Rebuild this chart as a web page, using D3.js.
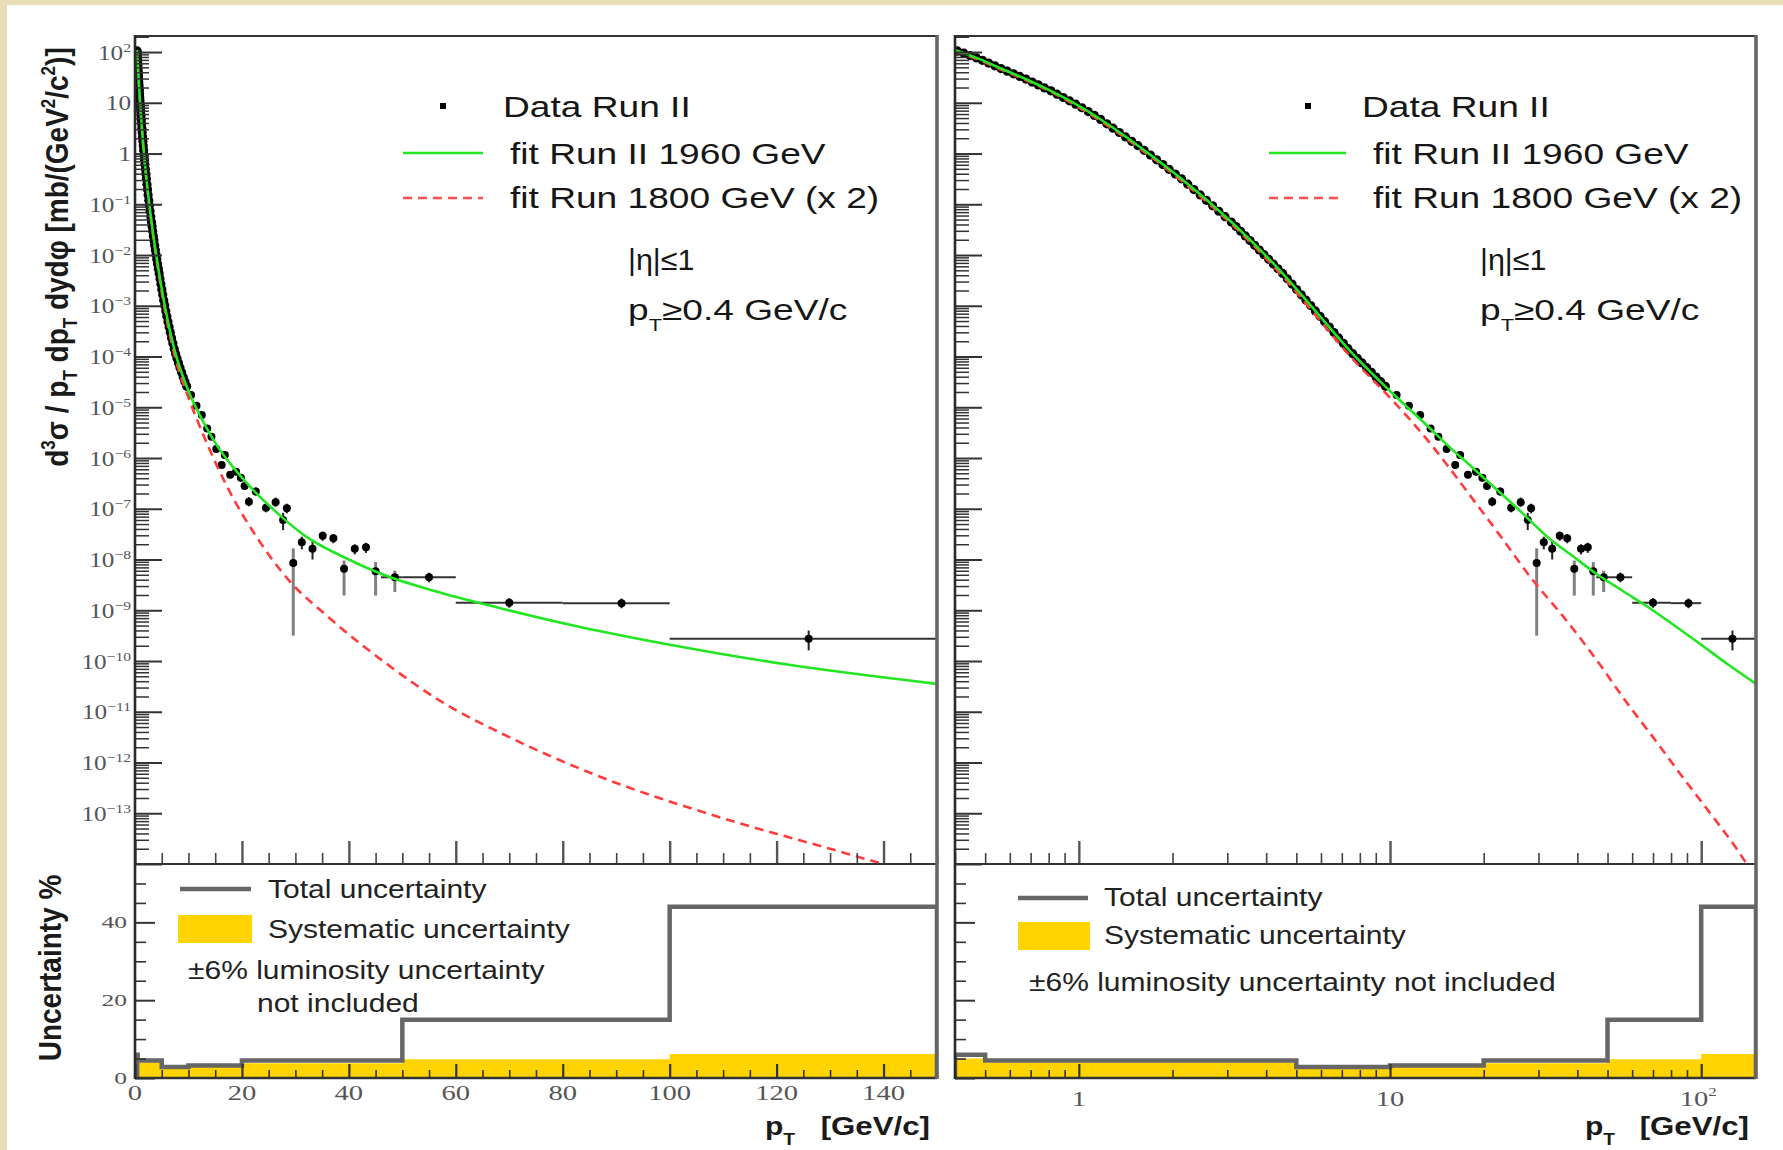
<!DOCTYPE html>
<html><head><meta charset="utf-8">
<script src="https://cdn.jsdelivr.net/npm/d3@7"></script>
<style>
html,body{margin:0;padding:0;background:#fff;}
svg{display:block;}
</style></head><body>
<svg id="chart" width="1783" height="1150"></svg>
<script>
// ================= DATA =================
// Dense low-pT data points (GeV/c) and log10 of d3sigma/(pT dpT dy dphi) [mb/GeV^2]
const densePt = [0.407,0.427,0.447,0.468,0.490,0.513,0.537,0.562,0.589,0.617,0.646,0.676,
  0.708,0.741,0.776,0.813,0.851,0.891,0.933,0.977,1.023,1.072,1.122,1.175,1.230,1.288,1.349,1.413,1.479,1.549,
  1.622,1.698,1.778,1.862,1.950,2.042,2.138,2.239,2.344,2.455,2.570,2.692,2.818,2.951,3.090,
  3.199,3.311,3.428,3.548,3.673,3.802,3.936,4.074,4.217,4.365,4.519,4.677,4.842,5.012,5.188,5.370,5.559,5.754,
  5.957,6.166,6.383,6.607,6.839,7.080,7.328,7.586,7.852,8.128,8.414,8.710,9.016,9.333,9.661];
const denseLog10 = [2.022,1.977,1.931,1.886,1.836,1.783,1.729,1.675,1.623,1.571,1.519,1.467,
  1.409,1.351,1.293,1.235,1.169,1.104,1.038,0.973,0.902,0.826,0.750,0.672,0.586,0.500,0.414,0.327,0.241,0.155,
  0.064,-0.030,-0.124,-0.218,-0.311,-0.405,-0.499,-0.603,-0.710,-0.816,-0.923,-1.030,-1.137,-1.244,-1.350,
  -1.439,-1.531,-1.623,-1.716,-1.808,-1.901,-1.993,-2.085,-2.178,-2.270,-2.363,-2.468,-2.573,-2.679,-2.785,-2.890,-2.996,-3.101,
  -3.207,-3.314,-3.420,-3.527,-3.633,-3.740,-3.846,-3.943,-4.035,-4.127,-4.219,-4.312,-4.404,-4.496,-4.588];

// Higher-pT data points with error bars (log10 values)
const binPt = [10.5,11.5,12.5,13.5,14.3,15.2,16.2,16.8,17.8,18.9,19.8,20.5,21.3,22.6,24.5,26.3,27.7,28.4,29.6,
  31.2,33.2,35.1,37.1,39.1,41.1,43.2,45.0,48.6,55,70,91,126];
const binLog10 = [-4.76,-4.97,-5.15,-5.42,-5.58,-5.82,-6.14,-5.94,-6.33,-6.27,-6.39,-6.55,-6.86,-6.66,-6.98,-6.87,-7.22,-6.99,-8.07,
  -7.66,-7.79,-7.53,-7.58,-8.18,-7.79,-7.76,-8.23,-8.35,-8.35,-8.85,-8.86,-9.56];
const binErrLoLog10 = [-4.79,-5.00,-5.19,-5.46,-5.63,-5.87,-6.20,-6.00,-6.40,-6.34,-6.46,-6.62,-6.95,-6.74,-7.07,-6.96,-7.42,-7.09,-9.50,
  -7.80,-8.00,-7.63,-7.68,-8.71,-7.90,-7.87,-8.71,-8.64,-8.45,-8.95,-8.96,-9.79];
const binErrHiLog10 = [-4.73,-4.94,-5.11,-5.38,-5.53,-5.77,-6.08,-5.88,-6.26,-6.20,-6.32,-6.48,-6.77,-6.58,-6.89,-6.78,-7.08,-6.90,-7.78,
  -7.55,-7.65,-7.45,-7.50,-8.02,-7.70,-7.67,-8.05,-8.22,-8.26,-8.76,-8.77,-9.40];
const binXLo = [null,null,null,null,null,null,null,null,null,null,null,null,null,null,null,null,null,null,null,
  null,null,null,null,null,null,null,null,46,50,60,80,100];
const binXHi = [null,null,null,null,null,null,null,null,null,null,null,null,null,null,null,null,null,null,null,
  null,null,null,null,null,null,null,null,50,60,80,100,150];

// Fit Run II 1960 GeV (green) : pT, log10 value
const fitRun2Pt = [0.4,0.48,0.56,0.68,0.81,1.0,1.17,1.57,2.16,3.13,4.53,5.79,7.41,9.96,13,15.5,18.5,22,27,32,39,46,56,68,82,98,122,150];
const fitRun2Log10 = [2.04,1.86,1.68,1.46,1.24,0.94,0.68,0.13,-0.52,-1.38,-2.37,-3.12,-3.88,-4.67,-5.33,-5.78,-6.20,-6.62,-7.12,-7.55,-7.95,-8.28,-8.62,-8.95,-9.30,-9.64,-10.07,-10.45];

// Fit Run 1800 GeV (x 2) (red dashed) : pT, log10 value
const fit1800Pt = [0.4,0.48,0.56,0.68,0.81,1.0,1.17,1.57,2.16,3.13,4.53,5.79,7.41,9.96,11.5,13.5,15.4,18.4,22.4,28.7,36,47,57,70,86,110,130,140,150];
const fit1800Log10 = [2.02,1.84,1.66,1.44,1.22,0.91,0.65,0.10,-0.56,-1.42,-2.43,-3.20,-3.98,-4.80,-5.22,-5.72,-6.17,-6.80,-7.50,-8.40,-9.12,-10.05,-10.78,-11.50,-12.24,-13.10,-13.70,-14.00,-14.28];

// Uncertainty (%) per pT bin
const uncEdges = [0.4,0.5,5,10,20,50,100,150];
const uncTotal = [6,4.5,2.8,3.2,4.5,15,44];
const uncSyst  = [5,4,2.3,2.8,3.8,4.8,6.2];

// Tick labels
const yDecadeExp = [2,1,0,-1,-2,-3,-4,-5,-6,-7,-8,-9,-10,-11,-12,-13];
const xLinLabels = [0,20,40,60,80,100,120,140];
const xLogLabels = [1,10,100];
const uncLabels = [0,20,40];

// ================= DRAWING =================
const svg = d3.select('#chart');
svg.append('rect').attr('width',1783).attr('height',1150).attr('fill','#ffffff');
svg.append('rect').attr('x',0).attr('y',0).attr('width',1783).attr('height',5).attr('fill','#e9ddb8');
svg.append('rect').attr('x',0).attr('y',0).attr('width',7).attr('height',1150).attr('fill','#e9ddb8');

const UY0 = 36, UY1 = 864, LY1 = 1078;
const SANS = "'Liberation Sans', Arial, Helvetica, sans-serif";
const SERIF = "'Liberation Serif', 'Times New Roman', serif";

const y = d3.scaleLog().domain([1e-14, Math.pow(10, 2.316)]).range([UY1, UY0]);
const yU = d3.scaleLinear().domain([0, 55]).range([LY1, UY1]);

const panels = [
  {id:'lin', x0:135, x1:937, x:d3.scaleLinear().domain([0,150]).range([135,937])},
  {id:'log', x0:955, x1:1756, x:d3.scaleLog().domain([0.4,150]).range([955,1756])}
];

const defs = svg.append('defs');

function addText(x, yy, sx, parts, attrs, rot) {
  const g = svg.append('g').attr('transform', `translate(${x},${yy}) scale(${sx},1)` + (rot ? ' rotate(-90)' : ''));
  const t = g.append('text');
  Object.entries(attrs).forEach(([k,v]) => t.attr(k, v));
  parts.forEach(p => {
    const ts = t.append('tspan').text(p[0]);
    if (p[1]) ts.attr('font-size', p[1]);
    if (p[2]) ts.attr('dy', p[2]);
  });
  return t;
}

function tickAxis(axis, tx, ty, width, color) {
  const g = svg.append('g').attr('transform', `translate(${tx},${ty})`).call(axis);
  g.select('.domain').remove();
  g.selectAll('text').remove();
  g.selectAll('line').attr('stroke', color || '#333').attr('stroke-width', width || 1.6);
  return g;
}

// log y ticks
const yMajor = d3.range(-14, 3).map(n => Math.pow(10, n));
const yMinor = [];
d3.range(-14, 3).forEach(n => { for (let k = 2; k <= 9; k++) { const v = k * Math.pow(10, n); if (v <= y.domain()[1]) yMinor.push(v); } });

panels.forEach(P => {
  const x = P.x;
  defs.append('clipPath').attr('id', 'cu_' + P.id).append('rect')
    .attr('x', P.x0).attr('y', UY0).attr('width', P.x1 - P.x0).attr('height', UY1 - UY0);
  defs.append('clipPath').attr('id', 'cl_' + P.id).append('rect')
    .attr('x', P.x0).attr('y', UY1).attr('width', P.x1 - P.x0).attr('height', LY1 - UY1);

  // ---------- lower panel: uncertainties ----------
  const gl = svg.append('g').attr('clip-path', `url(#cl_${P.id})`);
  const systPts = uncSyst.map((v, i) => [uncEdges[i], v]).concat([[uncEdges[uncEdges.length - 1], uncSyst[uncSyst.length - 1]]]);
  gl.append('path').datum(systPts)
    .attr('d', d3.area().x(d => x(d[0])).y0(yU(0)).y1(d => yU(d[1])).curve(d3.curveStepAfter))
    .attr('fill', '#ffd400');
  const totPts = [[uncEdges[0], 0]];
  uncTotal.forEach((v, i) => { totPts.push([uncEdges[i], v]); totPts.push([uncEdges[i + 1], v]); });
  totPts.push([uncEdges[uncEdges.length - 1], 0]);
  gl.append('path').datum(totPts)
    .attr('d', d3.line().x(d => x(d[0])).y(d => yU(d[1])))
    .attr('fill', 'none').attr('stroke', '#666').attr('stroke-width', 4.5);

  // ---------- upper panel: data + fits ----------
  const gu = svg.append('g').attr('clip-path', `url(#cu_${P.id})`);
  binPt.forEach((p, i) => {
    const span = binErrHiLog10[i] - binErrLoLog10[i];
    gu.append('line')
      .attr('x1', x(p)).attr('x2', x(p))
      .attr('y1', y(Math.pow(10, binErrLoLog10[i]))).attr('y2', y(Math.pow(10, binErrHiLog10[i])))
      .attr('stroke', span > 0.4 ? '#808080' : '#222').attr('stroke-width', span > 0.4 ? 3 : 2);
    if (binXLo[i] !== null) {
      gu.append('line')
        .attr('x1', x(binXLo[i])).attr('x2', x(binXHi[i]))
        .attr('y1', y(Math.pow(10, binLog10[i]))).attr('y2', y(Math.pow(10, binLog10[i])))
        .attr('stroke', '#333').attr('stroke-width', 2);
    }
  });
  gu.selectAll('circle.dense').data(densePt).enter().append('circle')
    .attr('cx', d => x(d)).attr('cy', (d, i) => y(Math.pow(10, denseLog10[i]))).attr('r', 4.6).attr('fill', '#000');
  gu.selectAll('circle.bin').data(binPt).enter().append('circle')
    .attr('cx', d => x(d)).attr('cy', (d, i) => y(Math.pow(10, binLog10[i]))).attr('r', 4).attr('fill', '#000');

  const line = d3.line().x(d => x(d[0])).y(d => y(Math.pow(10, d[1]))).curve(d3.curveMonotoneX);
  gu.append('path').datum(fit1800Pt.map((p, i) => [p, fit1800Log10[i]]))
    .attr('d', line).attr('fill', 'none').attr('stroke', '#ff3b3b').attr('stroke-width', 2.6).attr('stroke-dasharray', '9,6');
  gu.append('path').datum(fitRun2Pt.map((p, i) => [p, fitRun2Log10[i]]))
    .attr('d', line).attr('fill', 'none').attr('stroke', '#22e622').attr('stroke-width', 2.6);

  // ---------- ticks ----------
  tickAxis(d3.axisRight(y).tickValues(yMinor).tickSize(14).tickFormat(''), P.x0, 0, 1.5);
  tickAxis(d3.axisRight(y).tickValues(yMajor).tickSize(27).tickFormat(''), P.x0, 0, 2);
  tickAxis(d3.axisRight(yU).tickValues([5,10,15,25,30,35,45,50]).tickSize(11).tickFormat(''), P.x0, 0, 1.6);
  tickAxis(d3.axisRight(yU).tickValues([0,20,40]).tickSize(20).tickFormat(''), P.x0, 0, 2);

  let xMinor, xMajor;
  if (P.id === 'lin') {
    xMajor = d3.range(0, 141, 20);
    xMinor = d3.range(5, 151, 5).filter(v => v % 20 !== 0);
  } else {
    xMajor = [1, 10, 100];
    xMinor = [0.4,0.5,0.6,0.7,0.8,0.9,2,3,4,5,6,7,8,9,20,30,40,50,60,70,80,90];
  }
  tickAxis(d3.axisTop(x).tickValues(xMinor).tickSize(11).tickFormat(''), 0, UY1, 1.6, '#444');
  tickAxis(d3.axisTop(x).tickValues(xMajor).tickSize(23).tickFormat(''), 0, UY1, 2.4, '#555');
  tickAxis(d3.axisTop(x).tickValues(xMinor).tickSize(8).tickFormat(''), 0, LY1, 1.6, '#333');
  tickAxis(d3.axisTop(x).tickValues(xMajor).tickSize(14).tickFormat(''), 0, LY1, 2.2, '#333');

  // ---------- frame ----------
  const fr = svg.append('g').attr('fill', 'none');
  fr.append('line').attr('x1', P.x0).attr('x2', P.x1).attr('y1', UY0).attr('y2', UY0).attr('stroke', '#333').attr('stroke-width', 2);
  fr.append('line').attr('x1', P.x0).attr('x2', P.x1).attr('y1', UY1).attr('y2', UY1).attr('stroke', '#333').attr('stroke-width', 2.2);
  fr.append('line').attr('x1', P.x0).attr('x2', P.x1).attr('y1', LY1).attr('y2', LY1).attr('stroke', '#333').attr('stroke-width', 2.6);
  fr.append('line').attr('x1', P.x0).attr('x2', P.x0).attr('y1', UY0 - 1).attr('y2', LY1 + 1).attr('stroke', '#2a2a2a').attr('stroke-width', 2.6);
  fr.append('line').attr('x1', P.x1).attr('x2', P.x1).attr('y1', UY0 - 1).attr('y2', LY1 + 1).attr('stroke', '#666').attr('stroke-width', 3.6);
});

// ---------- tick labels ----------
const L = panels[0], R = panels[1];
yDecadeExp.forEach(n => {
  const parts = n === 0 ? [['1']] : n === 1 ? [['10']] : [['10'], [(n < 0 ? '\u2212' + (-n) : '' + n), 13, -8]];
  addText(131, y(Math.pow(10, n)), 1.2, parts,
    {'text-anchor': 'end', 'dy': '0.36em', 'font-family': SERIF, 'font-size': 21, 'fill': '#555'});
});
uncLabels.forEach(v => {
  addText(127, yU(v), 1.5, [['' + v]],
    {'text-anchor': 'end', 'dy': '0.36em', 'font-family': SERIF, 'font-size': 17, 'fill': '#555'});
});
xLinLabels.forEach(v => {
  addText(L.x(v), 1092, 1.3, [['' + v]],
    {'text-anchor': 'middle', 'dy': '0.36em', 'font-family': SERIF, 'font-size': 22, 'fill': '#555'});
});
xLogLabels.forEach(v => {
  const parts = v === 100 ? [['10'], ['2', 13, -10]] : [['' + v]];
  addText(R.x(v) - (v === 100 ? 3 : 0), 1098, 1.3, parts,
    {'text-anchor': 'middle', 'dy': '0.36em', 'font-family': SERIF, 'font-size': 22, 'fill': '#555'});
});

// ---------- axis titles ----------
const boldAttrs = {'font-family': SANS, 'font-weight': 'bold', 'font-size': 25, 'fill': '#1a1a1a'};
[[765, 930], [1585, 1749]].forEach(([px, ex]) => {
  addText(px, 1135, 1.2, [['p'], ['T', 16, 10]], boldAttrs);
  addText(ex, 1135, 1.25, [['[GeV/c]']], Object.assign({'text-anchor': 'end'}, boldAttrs));
});
addText(68, 257, 1.15,
  [['d'], ['3', 17, -11], ['\u03c3 / p', null, 11], ['T', 17, 8], [' dp', null, -8], ['T', 17, 8],
   [' dyd\u03c6 [mb/(GeV', null, -8], ['2', 17, -11], ['/c', null, 11], ['2', 17, -11], [')]', null, 11]],
  {'text-anchor': 'middle', 'font-family': SANS, 'font-weight': 'bold', 'font-size': 28, 'fill': '#1a1a1a'}, true);
addText(61, 968, 1.15, [['Uncertainty %']],
  {'text-anchor': 'middle', 'font-family': SANS, 'font-weight': 'bold', 'font-size': 28, 'fill': '#1a1a1a'}, true);

// ---------- legends (upper) ----------
const legAttrs = {'font-family': SANS, 'font-size': 29, 'fill': '#161616'};
[
  {mx: 443, tx: 503, lx0: 403, lx1: 483, rx1: 483, fx: 510, ex: 628},
  {mx: 1308, tx: 1362, lx0: 1269, lx1: 1346, rx1: 1338, fx: 1373, ex: 1480}
].forEach(o => {
  svg.append('rect').attr('x', o.mx - 3).attr('y', 103).attr('width', 6).attr('height', 6).attr('fill', '#000');
  addText(o.tx, 116.5, 1.28, [['Data Run II']], legAttrs);
  svg.append('line').attr('x1', o.lx0).attr('x2', o.lx1).attr('y1', 153).attr('y2', 153)
    .attr('stroke', '#22e622').attr('stroke-width', 2.6);
  addText(o.fx, 164, 1.28, [['fit Run II 1960 GeV']], legAttrs);
  svg.append('line').attr('x1', o.lx0).attr('x2', o.rx1).attr('y1', 198).attr('y2', 198)
    .attr('stroke', '#ff5050').attr('stroke-width', 2.6).attr('stroke-dasharray', '9,6');
  addText(o.fx, 208, 1.28, [['fit Run 1800 GeV (x 2)']], legAttrs);
  addText(o.ex, 270, 1.05, [['|\u03b7|\u22641']], legAttrs);
  addText(o.ex, 320, 1.28, [['p'], ['T', 17, 11], ['\u22650.4 GeV/c', null, -11]], legAttrs);
});

// ---------- legends (lower) ----------
const lowAttrs = {'font-family': SANS, 'font-size': 25, 'fill': '#222'};
svg.append('line').attr('x1', 180).attr('x2', 251).attr('y1', 889).attr('y2', 889).attr('stroke', '#666').attr('stroke-width', 4.5);
addText(268, 898, 1.2, [['Total uncertainty']], lowAttrs);
svg.append('rect').attr('x', 178).attr('y', 915).attr('width', 74).attr('height', 28).attr('fill', '#ffd400');
addText(268, 938, 1.2, [['Systematic uncertainty']], lowAttrs);
addText(188, 979, 1.2, [['\u00b16% luminosity uncertainty']], lowAttrs);
addText(257, 1012, 1.2, [['not included']], lowAttrs);
svg.append('line').attr('x1', 1018).attr('x2', 1088).attr('y1', 898).attr('y2', 898).attr('stroke', '#666').attr('stroke-width', 4.5);
addText(1104, 906, 1.2, [['Total uncertainty']], lowAttrs);
svg.append('rect').attr('x', 1018).attr('y', 922).attr('width', 72).attr('height', 28).attr('fill', '#ffd400');
addText(1104, 944, 1.2, [['Systematic uncertainty']], lowAttrs);
addText(1029, 991, 1.2, [['\u00b16% luminosity uncertainty not included']], lowAttrs);
</script>
</body></html>
